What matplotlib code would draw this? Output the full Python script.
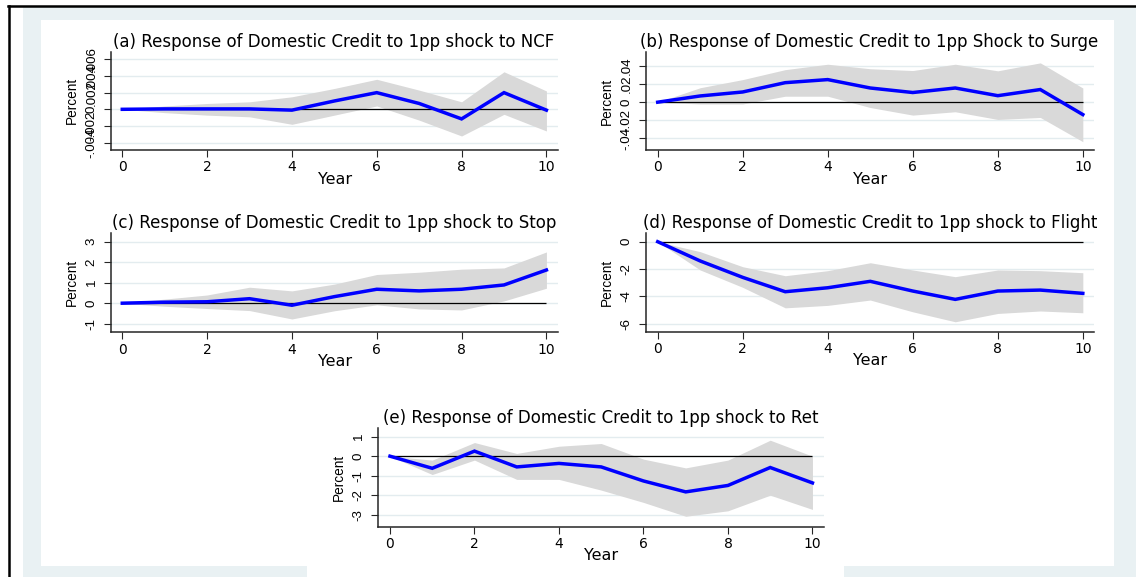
import matplotlib
matplotlib.use("Agg")
import matplotlib.pyplot as plt
from matplotlib.patches import Rectangle
from matplotlib.lines import Line2D

# ---------------- data ----------------
years = list(range(11))
xticks = [0, 2, 4, 6, 8, 10]

title_a = "(a) Response of Domestic Credit to 1pp shock to NCF"
title_b = "(b) Response of Domestic Credit to 1pp Shock to Surge"
title_c = "(c) Response of Domestic Credit to 1pp shock to Stop"
title_d = "(d) Response of Domestic Credit to 1pp shock to Flight"
title_e = "(e) Response of Domestic Credit to 1pp shock to Ret"

irf_a = [0, 0.00005, 0.00005, 0.00005, -0.0001, 0.001, 0.002, 0.0007, -0.00115, 0.002, -0.0001]
up_a = [0, 0.0004, 0.0007, 0.0009, 0.0015, 0.0025, 0.0036, 0.0023, 0.0009, 0.0045, 0.0022]
lo_a = [0, -0.0004, -0.0007, -0.0009, -0.0018, -0.0007, 0.0004, -0.0013, -0.0032, -0.0006, -0.0026]
yt_a = [-0.004, -0.002, 0, 0.002, 0.004, 0.006]
yl_a = ["-.004", "-.002", "0", ".002", ".004", ".006"]

irf_b = [0, 0.0069, 0.0113, 0.0216, 0.025, 0.0157, 0.0107, 0.0157, 0.0072, 0.014, -0.0137]
up_b = [0, 0.016, 0.025, 0.036, 0.042, 0.037, 0.035, 0.042, 0.0347, 0.0435, 0.0157]
lo_b = [0, -0.002, -0.002, 0.0066, 0.0066, -0.0059, -0.0143, -0.0106, -0.0191, -0.0169, -0.0437]
yt_b = [-0.04, -0.02, 0, 0.02, 0.04]
yl_b = ["-.04", "-.02", "0", ".02", ".04"]

irf_c = [0, 0.05, 0.07, 0.22, -0.1, 0.32, 0.68, 0.6, 0.68, 0.89, 1.62]
up_c = [0, 0.2, 0.4, 0.78, 0.6, 0.93, 1.4, 1.51, 1.66, 1.72, 2.5]
lo_c = [0, -0.15, -0.26, -0.36, -0.77, -0.37, -0.08, -0.28, -0.33, 0.11, 0.73]
yt_c = [-1, 0, 1, 2, 3]
yl_c = ["-1", "0", "1", "2", "3"]

irf_d = [0, -1.41, -2.61, -3.66, -3.37, -2.9, -3.61, -4.22, -3.61, -3.54, -3.78]
up_d = [0, -0.73, -1.83, -2.49, -2.12, -1.54, -2.07, -2.56, -2.07, -2.12, -2.27]
lo_d = [0, -2.07, -3.34, -4.84, -4.66, -4.27, -5.13, -5.86, -5.25, -5.07, -5.2]
yt_d = [-6, -4, -2, 0]
yl_d = ["-6", "-4", "-2", "0"]

irf_e = [0, -0.62, 0.26, -0.55, -0.37, -0.55, -1.27, -1.83, -1.5, -0.58, -1.37]
up_e = [0, -0.2, 0.7, 0.14, 0.51, 0.65, -0.15, -0.6, -0.2, 0.82, 0]
lo_e = [0, -0.94, -0.2, -1.19, -1.19, -1.74, -2.37, -3.08, -2.8, -2.0, -2.73]
yt_e = [-3, -2, -1, 0, 1]
yl_e = ["-3", "-2", "-1", "0", "1"]

# ---------------- layout (pixels) ----------------
W, H = 1136, 577
fig = plt.figure(figsize=(W / 100, H / 100), dpi=100)
fig.patch.set_facecolor("white")


def fx(x):
    return x / W


def fy(y):
    return 1 - y / H


def rect(x0, y0, x1, y1, color, z=-10):
    fig.add_artist(Rectangle((fx(x0), fy(y1)), (x1 - x0) / W, (y1 - y0) / H,
                             transform=fig.transFigure, facecolor=color,
                             edgecolor="none", zorder=z))


BG = "#E9F1F3"
rect(23, 7, W, H, BG)
rect(41, 20, 1114, 566, "white")
rect(307, 566, 844, H, "white")
fig.add_artist(Line2D([fx(8), fx(W)], [fy(6), fy(6)], transform=fig.transFigure,
                      color="black", lw=1.8, zorder=-5))
fig.add_artist(Line2D([fx(9), fx(9)], [fy(6), fy(H)], transform=fig.transFigure,
                      color="black", lw=1.8, zorder=-5))

panels = [
    dict(title=title_a, irf=irf_a, up=up_a, lo=lo_a, yt=yt_a, yl=yl_a,
         box=(111, 51.7, 558.3, 150), xlim=(-0.266, 10.28), ylim=(-0.00488, 0.00691),
         tc=(334, 41.7)),
    dict(title=title_b, irf=irf_b, up=up_b, lo=lo_b, yt=yt_b, yl=yl_b,
         box=(646, 52.3, 1094.3, 150), xlim=(-0.275, 10.27), ylim=(-0.0529, 0.0552),
         tc=(869.5, 41.7)),
    dict(title=title_c, irf=irf_c, up=up_c, lo=lo_c, yt=yt_c, yl=yl_c,
         box=(111, 233.3, 558.3, 332.3), xlim=(-0.266, 10.28), ylim=(-1.42, 3.41),
         tc=(334.5, 223.3)),
    dict(title=title_d, irf=irf_d, up=up_d, lo=lo_d, yt=yt_d, yl=yl_d,
         box=(646, 233.3, 1094.3, 331.7), xlim=(-0.275, 10.27), ylim=(-6.585, 0.614),
         tc=(870.5, 223.3)),
    dict(title=title_e, irf=irf_e, up=up_e, lo=lo_e, yt=yt_e, yl=yl_e,
         box=(377.9, 428.3, 824.3, 526.7), xlim=(-0.286, 10.28), ylim=(-3.615, 1.43),
         tc=(600.4, 418.3)),
]

AXC = "#262626"
for p in panels:
    l, t, r, b = p["box"]
    ax = fig.add_axes([fx(l), fy(b), (r - l) / W, (b - t) / H])
    ax.patch.set_visible(False)
    for s in ("top", "right"):
        ax.spines[s].set_visible(False)
    for s in ("left", "bottom"):
        ax.spines[s].set_color(AXC)
        ax.spines[s].set_linewidth(1.1)

    ax.set_axisbelow(True)
    ax.yaxis.grid(True, color="#E3ECEF", lw=1.0)
    ax.xaxis.grid(False)

    ax.fill_between(years, p["lo"], p["up"], color="#D9D9D9", lw=0, zorder=1)
    ax.hlines(0, years[0], years[-1], color="black", lw=0.9, zorder=2)
    ax.plot(years, p["irf"], color="#0000FF", lw=2.5, zorder=3,
            solid_joinstyle="miter")

    ax.set_xlim(*p["xlim"])
    ax.set_ylim(*p["ylim"])
    ax.set_xticks(xticks)
    ax.set_xticklabels([str(v) for v in xticks], family="DejaVu Sans", fontsize=10)
    ax.set_yticks(p["yt"])
    ax.set_yticklabels(p["yl"], family="Liberation Sans", fontsize=9.6,
                       rotation=90, va="center", ha="right")
    ax.tick_params(axis="both", direction="out", length=5, width=0.8, color=AXC)
    ax.tick_params(axis="x", pad=2.5)
    ax.tick_params(axis="y", pad=4.5)

    ax.set_xlabel("Year", family="DejaVu Sans", fontsize=11.5, va="center")
    ax.xaxis.set_label_coords(0.5, -29 / (b - t))
    ax.set_ylabel("Percent", family="Liberation Sans", fontsize=9.8, va="center")
    ax.yaxis.set_label_coords(-39 / (r - l), 0.5)

    fig.text(fx(p["tc"][0]), fy(p["tc"][1]), p["title"], ha="center", va="center",
             family="DejaVu Sans", fontsize=12)

fig.savefig("out.png", dpi=100)
